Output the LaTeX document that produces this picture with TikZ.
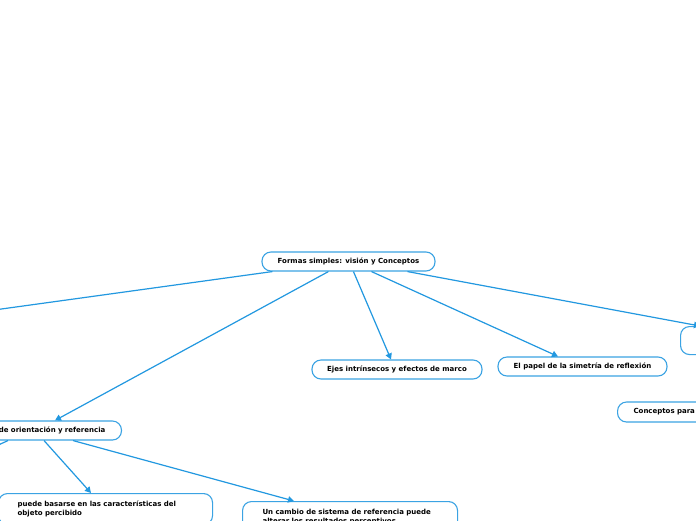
\documentclass[tikz,border=0pt]{standalone}
\usepackage{fontspec}
\setmainfont{DejaVu Sans}
\usepackage{xcolor}
\usepackage{tikz}
\usetikzlibrary{positioning, arrows.meta, calc}

\definecolor{mapblue}{HTML}{2298E0}
\definecolor{boxblue}{HTML}{3BA3E3}

\tikzset{
  topic/.style={draw=boxblue, line width=1.1pt, rounded corners=9pt, fill=white,
    font=\fontsize{7}{9}\selectfont\bfseries, minimum height=19pt, inner ysep=4pt},
  link/.style={draw=mapblue, line width=1.2pt, -{Triangle[length=6pt,width=6.5pt]}},
  plain link/.style={draw=mapblue, line width=1.2pt}
}

\begin{document}
\begin{tikzpicture}[x=1pt, y=-1pt]
        % Canvas of the reference, everything outside is cut
        \fill[white] (0,0) rectangle (696,520);
        \useasboundingbox (0,0) rectangle (696,520);
        \clip (0,0) rectangle (696,520);
        % Central topic
        \node[topic, minimum width=173pt] (root) at (348.5,261.5){Formas simples: visión y Conceptos};
        % Main branches
        \node[topic, minimum width=170pt] (ejes) at (397,369.5){Ejes intrínsecos y efectos de marco};
        \node[topic, minimum width=169pt] (papel) at (582.5,366.5){El papel de la simetría de reflexión};
        \node[topic, anchor=north west, minimum width=120pt, minimum height=28pt] (lado) at (680,326){};
        \node[topic, anchor=west, text width=150pt, align=left, inner xsep=16pt, minimum height=20pt] (conceptos) at (617,412){Conceptos para};
        \node[topic, anchor=east, text width=150pt, align=right, inner xsep=16pt] (orient) at (122,430.5){de orientación y referencia};
        % Sub topics
        \node[topic, anchor=north west, text width=176pt, align=left, inner xsep=19pt, inner ysep=7.5pt] (basar) at (-2,493){puede basarse en las características del\\objeto percibido};
        \node[topic, anchor=north west, text width=175pt, align=left, inner xsep=20pt, inner ysep=7.5pt] (cambio) at (242,501){Un cambio de sistema de referencia puede\\alterar los resultados perceptivos};
        % Free ends beyond the canvas
        \coordinate (fueraA) at (-100,323);
        \coordinate (fueraB) at (-30,458);
        % Connectors from the central topic
        \draw[plain link] ([xshift=11pt]root.south west) -- (fueraA);
        \draw[link] ([xshift=67pt]root.south west) -- ([xshift=-67pt]orient.north east);
        \draw[link] ([xshift=92pt]root.south west) -- ([xshift=-6pt]ejes.north);
        \draw[link] ([xshift=110pt]root.south west) -- ([xshift=-24.5pt]papel.north);
        \draw[link] ([xshift=146pt]root.south west) -- ([xshift=20pt]lado.north west);
        % Connectors from the orientation topic
        \draw[plain link] ([xshift=-114pt]orient.south east) -- (fueraB);
        \draw[link] ([xshift=-78pt]orient.south east) -- ([xshift=93pt]basar.north west);
        \draw[link] ([xshift=-49pt]orient.south east) -- ([xshift=52pt]cambio.north west);
      \end{tikzpicture}
\end{document}
